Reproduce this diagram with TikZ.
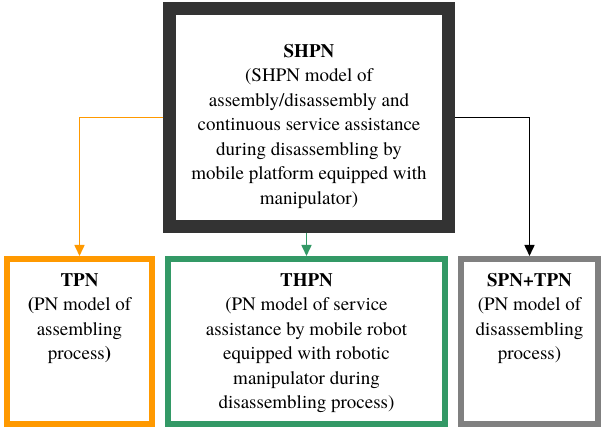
\documentclass[tikz,border=0pt]{standalone}
\usepackage{fontspec}
\setmainfont{TeX Gyre Termes}
\usetikzlibrary{arrows.meta, calc, positioning}
\definecolor{shpngray}{RGB}{51,51,51}
\definecolor{tpnorange}{RGB}{255,153,0}
\definecolor{thpngreen}{RGB}{51,153,102}
\definecolor{spngray}{RGB}{128,128,128}
\tikzstyle{block} = [rectangle, line width=6pt, outer sep=3pt, inner sep=0pt, minimum height=165pt]
\tikzstyle{caption} = [align=center, inner sep=0pt, font=\fontsize{19}{24.5}\selectfont]
\tikzstyle{arrow} = [line width=1.6pt,->,>={Triangle[width=10pt,length=11pt]}]

\begin{document}
\begin{tikzpicture}[x=1pt, y=1pt, node distance = 10pt]
	\useasboundingbox (0,0) rectangle (603,430);
	\node (SHPN) [block, draw=shpngray, line width=13pt, outer sep=6.5pt, minimum width=279pt, minimum height=218pt] at (309,312.5) {};
	\node (TPN) [block, draw=tpnorange, minimum width=145pt] at (79.5,88.5) {};
	\node (THPN) [block, draw=thpngreen, minimum width=277pt, right = of TPN] {};
	\node (SPN) [block, draw=spngray, minimum width=137pt, right = of THPN] {};
	\node (SHPNText) [caption] at ($(SHPN)+(0,-8.5)$) {\textbf{SHPN}\\(SHPN model of\\assembly/disassembly and\\continuous service assistance\\during disassembling by\\mobile platform equipped with\\manipulator)};
	\node (TPNText) [caption, below = 17pt of TPN.north] {\textbf{TPN}\\\textbf{(}PN model of\\assembling\\process\textbf{)}};
	\node (THPNText) [caption, below = 17pt of THPN.north] {\textbf{THPN}\\(PN model of service\\assistance by mobile robot\\equipped with robotic\\manipulator during\\disassembling process)};
	\node (SPNText) [caption, below = 17pt of SPN.north] {\textbf{SPN+TPN}\\(PN model of\\disassembling\\process)};
	\draw [arrow, tpnorange] (SHPN.west) -| (TPN.north);
	\draw [arrow, thpngreen] (SHPN.south -| THPN.north) -- (THPN.north);
	\draw [arrow, black] (SHPN.east) -| (SPN.north);
\end{tikzpicture}
\end{document}
